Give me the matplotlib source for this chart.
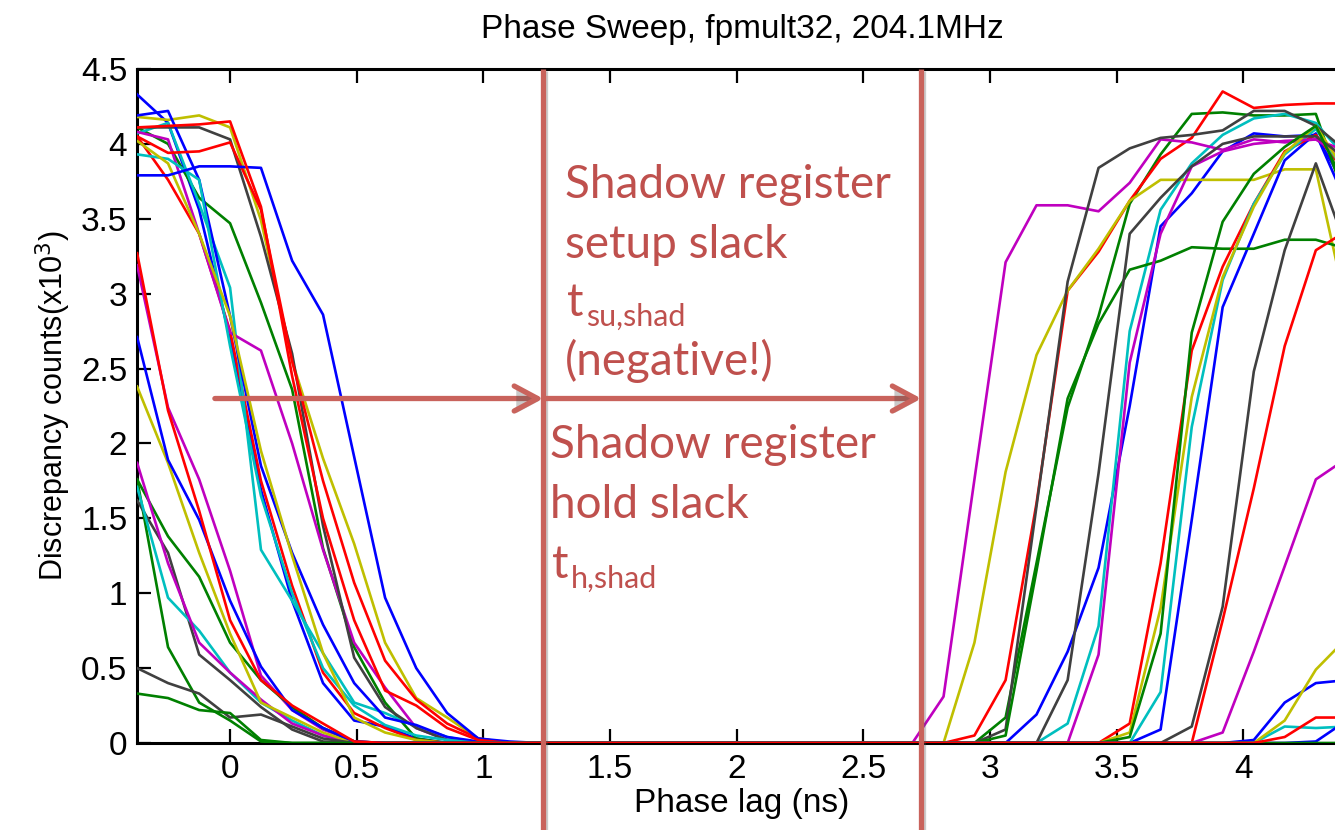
import matplotlib
matplotlib.use("Agg")
import matplotlib.pyplot as plt
from matplotlib import patheffects as pe
from matplotlib.transforms import blended_transform_factory

# ---------------- data ----------------
phase_ns = [-0.367, -0.245, -0.122, 0.000, 0.122, 0.245, 0.367, 0.490,
            0.612, 0.735, 0.857, 0.980, 1.102, 1.225, 1.347, 1.470,
            1.592, 1.715, 1.837, 1.960, 2.082, 2.205, 2.327, 2.449,
            2.572, 2.694, 2.817, 2.939, 3.062, 3.184, 3.307, 3.429,
            3.552, 3.674, 3.797, 3.919, 4.042, 4.164, 4.287, 4.409]

s01 = [4.33, 4.14, 3.56, 2.70, 1.69, 0.95, 0.40, 0.15, 0.11, 0.03, 0, 0, 0,
       0, 0, 0, 0, 0, 0, 0, 0, 0, 0, 0,
       0, 0, 0, 0, 0, 0.19, 0.61, 1.17, 2.25, 3.45, 3.67, 3.95, 4.07, 4.05, 4.06, 3.70]
s02 = [4.11, 4.00, 3.64, 3.47, 2.94, 2.36, 1.30, 0.64, 0.27, 0.03, 0, 0, 0,
       0, 0, 0, 0, 0, 0, 0, 0, 0, 0, 0,
       0, 0, 0, 0, 0.17, 1.20, 2.24, 2.85, 3.60, 3.93, 4.20, 4.21, 4.19, 4.19, 4.20, 3.60]
s03 = [4.05, 3.76, 3.40, 2.75, 1.75, 1.05, 0.47, 0.20, 0.10, 0.02, 0, 0, 0,
       0, 0, 0, 0, 0, 0, 0, 0, 0, 0, 0,
       0, 0, 0, 0.05, 0.42, 1.60, 3.02, 3.28, 3.62, 3.90, 4.04, 4.35, 4.24, 4.26, 4.27, 4.27]
s04 = [4.07, 4.14, 3.60, 3.04, 1.29, 0.95, 0.60, 0.27, 0.20, 0.11, 0.04, 0, 0,
       0, 0, 0, 0, 0, 0, 0, 0, 0, 0, 0,
       0, 0, 0, 0, 0, 0, 0.13, 0.78, 2.75, 3.56, 3.87, 4.06, 4.17, 4.20, 4.14, 3.90]
s05 = [4.08, 4.03, 3.40, 2.74, 2.62, 2.00, 1.29, 0.67, 0.37, 0.10, 0.02, 0, 0,
       0, 0, 0, 0, 0, 0, 0, 0, 0, 0, 0,
       0, 0, 0.31, 1.76, 3.21, 3.59, 3.59, 3.55, 3.74, 4.03, 4.01, 3.96, 4.03, 4.01, 4.03, 3.95]
s06 = [4.18, 4.16, 4.19, 4.11, 3.49, 2.55, 1.90, 1.33, 0.67, 0.30, 0.17, 0.03, 0,
       0, 0, 0, 0, 0, 0, 0, 0, 0, 0, 0,
       0, 0, 0, 0.67, 1.81, 2.59, 3.02, 3.30, 3.62, 3.76, 3.76, 3.76, 3.76, 3.83, 3.83, 2.90]
s07 = [4.11, 4.11, 4.11, 4.03, 3.38, 2.60, 1.45, 0.57, 0.24, 0.10, 0.02, 0, 0,
       0, 0, 0, 0, 0, 0, 0, 0, 0, 0, 0,
       0, 0, 0, 0, 0.09, 1.58, 3.08, 3.84, 3.97, 4.04, 4.06, 4.09, 4.22, 4.22, 4.12, 3.95]
s08 = [4.19, 4.22, 3.76, 2.85, 1.85, 1.27, 0.79, 0.40, 0.17, 0.12, 0.04, 0.01, 0,
       0, 0, 0, 0, 0, 0, 0, 0, 0, 0, 0,
       0, 0, 0, 0, 0, 0, 0, 0, 0, 0.09, 1.49, 2.91, 3.40, 3.89, 4.07, 3.60]
s09 = [1.76, 0.64, 0.27, 0.15, 0.01, 0, 0, 0, 0, 0, 0, 0, 0,
       0, 0, 0, 0, 0, 0, 0, 0, 0, 0, 0,
       0, 0, 0, 0, 0.05, 1.15, 2.30, 2.80, 3.16, 3.22, 3.31, 3.30, 3.30, 3.36, 3.36, 3.30]
s10 = [4.05, 3.94, 3.95, 4.01, 3.56, 2.55, 1.75, 1.07, 0.55, 0.29, 0.13, 0.03, 0,
       0, 0, 0, 0, 0, 0, 0, 0, 0, 0, 0,
       0, 0, 0, 0, 0, 0, 0, 0, 0.13, 1.20, 2.62, 3.18, 3.60, 3.95, 4.06, 3.80]
s11 = [3.93, 3.90, 3.76, 2.65, 1.65, 1.00, 0.50, 0.25, 0.12, 0.05, 0.02, 0, 0,
       0, 0, 0, 0, 0, 0, 0, 0, 0, 0, 0,
       0, 0, 0, 0, 0, 0, 0, 0, 0, 0.34, 2.11, 3.09, 3.60, 3.93, 4.10, 3.80]
s12 = [3.19, 2.24, 1.76, 1.15, 0.45, 0.22, 0.09, 0.01, 0, 0, 0, 0, 0,
       0, 0, 0, 0, 0, 0, 0, 0, 0, 0, 0,
       0, 0, 0, 0, 0, 0, 0, 0.59, 2.54, 3.40, 3.85, 3.95, 4.00, 4.02, 4.03, 3.90]
s13 = [4.02, 3.87, 3.40, 2.85, 1.95, 1.25, 0.60, 0.17, 0.07, 0.02, 0, 0, 0,
       0, 0, 0, 0, 0, 0, 0, 0, 0, 0, 0,
       0, 0, 0, 0, 0, 0, 0, 0, 0.07, 0.90, 2.31, 3.11, 3.58, 3.94, 4.12, 3.80]
s14 = [1.62, 1.27, 0.59, 0.42, 0.24, 0.09, 0.01, 0, 0, 0, 0, 0, 0,
       0, 0, 0, 0, 0, 0, 0, 0, 0, 0, 0,
       0, 0, 0, 0, 0, 0, 0.42, 1.80, 3.40, 3.64, 3.85, 4.00, 4.05, 4.05, 4.05, 3.90]
s15 = [3.79, 3.79, 3.85, 3.85, 3.84, 3.22, 2.86, 1.91, 0.97, 0.50, 0.20, 0.03, 0.01,
       0, 0, 0, 0, 0, 0, 0, 0, 0, 0, 0,
       0, 0, 0, 0, 0, 0, 0, 0, 0, 0, 0, 0, 0.02, 0.27, 0.40, 0.42]
s16 = [1.76, 1.38, 1.11, 0.67, 0.42, 0.24, 0.10, 0.01, 0, 0, 0, 0, 0,
       0, 0, 0, 0, 0, 0, 0, 0, 0, 0, 0,
       0, 0, 0, 0, 0, 0, 0, 0, 0.04, 0.73, 2.74, 3.48, 3.80, 3.98, 4.12, 3.70]
s17 = [4.11, 4.12, 4.13, 4.15, 3.58, 2.45, 1.50, 0.82, 0.35, 0.25, 0.10, 0.02, 0,
       0, 0, 0, 0, 0, 0, 0, 0, 0, 0, 0,
       0, 0, 0, 0, 0, 0, 0, 0, 0, 0, 0, 0.82, 1.70, 2.65, 3.29, 3.42]
s18 = [1.71, 0.97, 0.75, 0.47, 0.27, 0.15, 0.05, 0, 0, 0, 0, 0, 0,
       0, 0, 0, 0, 0, 0, 0, 0, 0, 0, 0,
       0, 0, 0, 0, 0, 0, 0, 0, 0, 0, 0, 0, 0, 0.11, 0.10, 0.11]
s19 = [1.87, 1.20, 0.67, 0.47, 0.29, 0.13, 0.05, 0, 0, 0, 0, 0, 0,
       0, 0, 0, 0, 0, 0, 0, 0, 0, 0, 0,
       0, 0, 0, 0, 0, 0, 0, 0, 0, 0, 0, 0.07, 0.61, 1.18, 1.76, 1.90]
s20 = [2.38, 1.87, 1.27, 0.73, 0.27, 0.17, 0.07, 0, 0, 0, 0, 0, 0,
       0, 0, 0, 0, 0, 0, 0, 0, 0, 0, 0,
       0, 0, 0, 0, 0, 0, 0, 0, 0, 0, 0, 0, 0, 0.15, 0.49, 0.70]
s21 = [0.50, 0.40, 0.33, 0.17, 0.19, 0.11, 0.03, 0, 0, 0, 0, 0, 0,
       0, 0, 0, 0, 0, 0, 0, 0, 0, 0, 0,
       0, 0, 0, 0, 0, 0, 0, 0, 0, 0, 0.11, 0.91, 2.48, 3.29, 3.87, 3.30]
s22 = [2.71, 1.89, 1.49, 0.95, 0.51, 0.22, 0.10, 0.01, 0, 0, 0, 0, 0,
       0, 0, 0, 0, 0, 0, 0, 0, 0, 0, 0,
       0, 0, 0, 0, 0, 0, 0, 0, 0, 0, 0, 0, 0, 0, 0.01, 0.15]
s23 = [0.33, 0.30, 0.22, 0.20, 0.02, 0, 0, 0, 0, 0, 0, 0, 0,
       0, 0, 0, 0, 0, 0, 0, 0, 0, 0, 0,
       0, 0, 0, 0, 0, 0, 0, 0, 0, 0, 0, 0, 0, 0, 0, 0]
s24 = [3.27, 2.22, 1.55, 0.82, 0.42, 0.25, 0.13, 0.01, 0, 0, 0, 0, 0,
       0, 0, 0, 0, 0, 0, 0, 0, 0, 0, 0,
       0, 0, 0, 0, 0, 0, 0, 0, 0, 0, 0, 0, 0, 0.04, 0.17, 0.17]

series = [s01, s02, s03, s04, s05, s06, s07, s08, s09, s10, s11, s12,
          s13, s14, s15, s16, s17, s18, s19, s20, s21, s22, s23, s24]
cycle_colors = ['#0000FF', '#008000', '#FF0000', '#00BFBF', '#BF00BF', '#BFBF00', '#404040']

x_ticks = [0, 0.5, 1, 1.5, 2, 2.5, 3, 3.5, 4]
x_tick_labels = ['0', '0.5', '1', '1.5', '2', '2.5', '3', '3.5', '4']
y_ticks = [0, 0.5, 1, 1.5, 2, 2.5, 3, 3.5, 4, 4.5]
y_tick_labels = ['0', '0.5', '1', '1.5', '2', '2.5', '3', '3.5', '4', '4.5']

slack_bounds_ns = [1.236, 2.729]
arrow_start_ns = -0.06
arrow_level = 2.30

# ---------------- figure ----------------
W, H = 1335, 830
fig = plt.figure(figsize=(W / 100, H / 100), dpi=100)
ax = fig.add_axes([137 / W, 87 / H, 1210 / W, 674 / H])

for i, s in enumerate(series):
    ax.plot(phase_ns, s, color=cycle_colors[i % 7], lw=1.9, zorder=3)

ax.set_xlim(-0.3675, 4.41)
ax.set_ylim(0, 4.5)
ax.set_xticks(x_ticks)
ax.set_xticklabels(x_tick_labels)
ax.set_yticks(y_ticks)
ax.set_yticklabels(y_tick_labels)

tfont = 'Liberation Sans'
for lab in ax.get_xticklabels() + ax.get_yticklabels():
    lab.set_family(tfont)
    lab.set_fontsize(24)
ax.tick_params(axis='both', direction='in', length=10, width=1.6, top=True, right=False)
ax.tick_params(axis='x', pad=8)
ax.tick_params(axis='y', pad=7)
for sp in ax.spines.values():
    sp.set_linewidth(2.2)
ax.spines['right'].set_visible(False)

ax.set_title('Phase Sweep, fpmult32, 204.1MHz', family=tfont, fontsize=24, pad=22)
ax.set_xlabel('Phase lag (ns)', family=tfont, fontsize=24, labelpad=2)
ax.set_ylabel('Discrepancy counts(x10$^3$)', family=tfont, fontsize=22, labelpad=6)

# ---------------- annotations ----------------
acol = '#C9635C'
tcol = '#BF504D'
shadow = [pe.SimpleLineShadow(offset=(1.5, -1.5), alpha=0.3, shadow_color='#555555'), pe.Normal()]
trans = blended_transform_factory(ax.transData, fig.transFigure)
top_frac = (87 + 674) / H
for xv in slack_bounds_ns:
    ax.plot([xv, xv], [top_frac, 0.0], transform=trans, clip_on=False,
            color=acol, lw=3.8, zorder=6, path_effects=shadow, solid_capstyle='butt')

starts = [arrow_start_ns, slack_bounds_ns[0]]
for x0, x1 in zip(starts, slack_bounds_ns):
    ann = ax.annotate('', xy=(x1, arrow_level), xytext=(x0, arrow_level),
                      arrowprops=dict(arrowstyle='->,head_length=1.4,head_width=0.75',
                                      lw=3.8, color=acol, shrinkA=0, shrinkB=0,
                                      mutation_scale=12),
                      zorder=6, annotation_clip=False)
    ann.arrow_patch.set_path_effects([pe.SimplePatchShadow(offset=(1.5, -1.5), alpha=0.3), pe.Normal()])

afont = 'Lato'
fs_big = 33
fs_sub = 22

def ftxt(x, y, s, size):
    fig.text(x / W, 1 - y / H, s, fontsize=size, color=tcol, family=afont,
             va='baseline', ha='left', zorder=7)

ftxt(565, 198, 'Shadow register', fs_big)
ftxt(565, 258, 'setup slack', fs_big)
ftxt(567, 316, 't', fs_big)
ftxt(586, 326, 'su,shad', fs_sub)
ftxt(565, 375, '(negative!)', fs_big)
ftxt(550, 458, 'Shadow register', fs_big)
ftxt(550, 518, 'hold slack', fs_big)
ftxt(552, 578, 't', fs_big)
ftxt(571, 588, 'h,shad', fs_sub)

fig.savefig('out.png', dpi=100)
